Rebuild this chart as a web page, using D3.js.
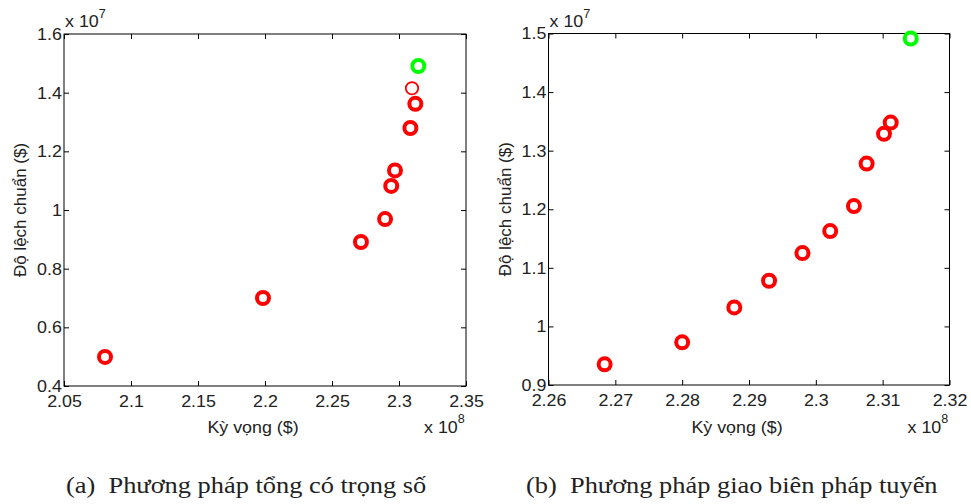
<!DOCTYPE html>
<html><head><meta charset="utf-8">
<script src="https://cdn.jsdelivr.net/npm/d3@7"></script>
<style>
body{margin:0;background:#fff;}
text{font-family:"Liberation Sans",Arial,sans-serif;fill:#222;}
</style></head>
<body><svg id="c" width="971" height="504"></svg>
<script>
// Panel (a): weighted-sum method (x in 1e8 $, y in 1e7 $)
const aRedX = [2.0806, 2.1985, 2.2716, 2.2896, 2.2942, 2.2970, 2.3085, 2.3122];
const aRedY = [0.499, 0.700, 0.891, 0.969, 1.082, 1.135, 1.2795, 1.362];
const aThinX = [2.3097];
const aThinY = [1.415];
const aGreenX = [2.3144];
const aGreenY = [1.491];
const aXTicks = [2.05, 2.1, 2.15, 2.2, 2.25, 2.3, 2.35];
const aYTicks = [0.4, 0.6, 0.8, 1, 1.2, 1.4, 1.6];

// Panel (b): normal boundary intersection method
const bRedX = [2.2684, 2.2800, 2.2878, 2.2930, 2.2980, 2.30215, 2.3057, 2.3076, 2.3102, 2.3112];
const bRedY = [0.9353, 0.9728, 1.0325, 1.078, 1.1252, 1.1627, 1.2054, 1.278, 1.3287, 1.348];
const bGreenX = [2.3142];
const bGreenY = [1.4915];
const bXTicks = [2.26, 2.27, 2.28, 2.29, 2.3, 2.31, 2.32];
const bYTicks = [0.9, 1, 1.1, 1.2, 1.3, 1.4, 1.5];

const xLabel = "Kỳ vọng ($)";
const yLabel = "Độ lệch chuẩn ($)";
const captions = ["(a)\u00a0\u00a0Phương pháp tổng có trọng số", "(b)\u00a0\u00a0Phương pháp giao biên pháp tuyến"];

const svg = d3.select("#c");
const FS = 17;
const SX = 1.05;

function label(parent, x, y, txt, anchor, size){
  return parent.append("text")
    .attr("transform", `translate(${x},${y}) scale(${SX},1)`)
    .attr("text-anchor", anchor).attr("font-size", size || FS).text(txt);
}

function panel(opt){
  const g = svg.append("g");
  const x = d3.scaleLinear().domain(d3.extent(opt.xt)).range([opt.x0, opt.x1]);
  const y = d3.scaleLinear().domain(d3.extent(opt.yt)).range([opt.y1, opt.y0]);
  const fmt = d => String(+d.toFixed(3));
  const tl = 5;
  g.append("rect").attr("x", opt.x0).attr("y", opt.y0)
    .attr("width", opt.x1-opt.x0).attr("height", opt.y1-opt.y0)
    .attr("fill","none").attr("stroke","#000").attr("stroke-width",1);
  const ax = [
    [d3.axisBottom(x).tickValues(opt.xt).tickSize(-tl).tickFormat(fmt), `translate(0,${opt.y1})`, "b"],
    [d3.axisTop(x).tickValues(opt.xt).tickSize(-tl).tickFormat(""), `translate(0,${opt.y0})`, "t"],
    [d3.axisLeft(y).tickValues(opt.yt).tickSize(-tl).tickFormat(fmt), `translate(${opt.x0},0)`, "l"],
    [d3.axisRight(y).tickValues(opt.yt).tickSize(-tl).tickFormat(""), `translate(${opt.x1},0)`, "r"]
  ];
  ax.forEach(([a,t,side])=>{
    const s = g.append("g").attr("transform", t).call(a);
    s.select(".domain").remove();
    s.selectAll("line").attr("stroke","#000");
    s.selectAll("text").attr("font-size",FS).attr("fill","#222")
      .style("font-family","Liberation Sans, Arial, sans-serif")
      .attr("transform", `scale(${SX},1)`);
    if (side === "b") s.selectAll("text").attr("y", 9);
    if (side === "l") s.selectAll("text").attr("x", -2);
  });
  const dot = (xs, ys, color, r, sw) => g.append("g").selectAll("circle")
    .data(xs.map((v,i)=>[v, ys[i]])).join("circle")
    .attr("cx", d=>x(d[0])).attr("cy", d=>y(d[1])).attr("r", r)
    .attr("fill","none").attr("stroke", color).attr("stroke-width", sw);
  dot(opt.redX, opt.redY, "#ff0000", 6, 4);
  if (opt.thinX) dot(opt.thinX, opt.thinY, "#ff0000", 6.2, 1.8);
  dot(opt.greenX, opt.greenY, "#00ff00", 6, 4);
  // axis labels
  label(g, (opt.x0+opt.x1)/2 - 12, 433, xLabel, "middle");
  g.append("text").attr("transform", `translate(${opt.x0-38},${(opt.y0+opt.y1)/2}) rotate(-90)`)
    .attr("text-anchor","middle").attr("font-size",FS).text(yLabel);
  // exponents
  const e1 = label(g, opt.x0+1, 27, "", "start");
  e1.append("tspan").text("x 10");
  e1.append("tspan").attr("dy",-9).attr("font-size",12).text(opt.ye);
  const e2 = label(g, opt.x1-42, 433, "", "start");
  e2.append("tspan").text("x 10");
  e2.append("tspan").attr("dy",-10).attr("font-size",12).text(opt.xe);
  // caption
  svg.append("text").attr("transform", `translate(${opt.cx},493) scale(1.1,1)`)
    .attr("font-size",24).style("font-family","Liberation Serif, Times New Roman, serif")
    .attr("fill","#000").text(opt.cap);
}

panel({x0:64, x1:466, y0:34, y1:386, xt:aXTicks, yt:aYTicks,
  redX:aRedX, redY:aRedY, thinX:aThinX, thinY:aThinY, greenX:aGreenX, greenY:aGreenY,
  ye:"7", xe:"8", cx:66, cap:captions[0]});
panel({x0:548.5, x1:949.5, y0:33.5, y1:385, xt:bXTicks, yt:bYTicks,
  redX:bRedX, redY:bRedY, greenX:bGreenX, greenY:bGreenY,
  ye:"7", xe:"8", cx:526, cap:captions[1]});
</script></body></html>
